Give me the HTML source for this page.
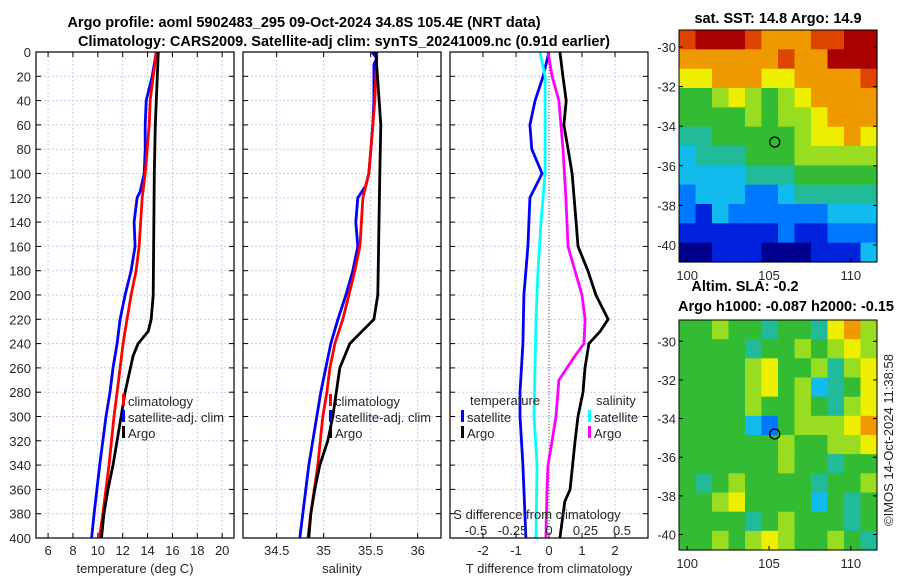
<!DOCTYPE html>
<html><head><meta charset="utf-8"><style>
body{margin:0;background:#fff;}
svg{display:block;font-family:"Liberation Sans","DejaVu Sans",sans-serif;}
.tk{font-size:13px;fill:#262626;}
.tt{font-size:14.5px;font-weight:bold;fill:#000;}
</style></head><body>
<svg id="fig" width="900" height="580" viewBox="0 0 900 580" xmlns="http://www.w3.org/2000/svg">
<text class="tt" x="304" y="27" text-anchor="middle">Argo profile: aoml 5902483_295 09-Oct-2024 34.8S 105.4E (NRT data)</text>
<text class="tt" x="344" y="46" text-anchor="middle">Climatology: CARS2009. Satellite-adj clim: synTS_20241009.nc (0.91d earlier)</text>
<g id="p1"></g>
<g id="p2"></g>
<g id="p3"></g>
<g id="m1"></g>
<g id="m2"></g>
<text class="tk" transform="translate(893,440) rotate(-90)" text-anchor="middle">©IMOS 14-Oct-2024 11:38:58</text>
</svg>
<script>
// ---- data ----
const depthTicks=[0,20,40,60,80,100,120,140,160,180,200,220,240,260,280,300,320,340,360,380,400];
const tTicks=[6,8,10,12,14,16,18,20];
const sTicks=[34.5,35,35.5,36];
const dTTicks=[-2,-1,0,1,2];
const dSTicks=[-0.5,-0.25,0,0.25,0.5];
const dSTickLabels=['-0.5','-0.25','0','0.25','0.5'];
const argoTDepth=[0,20,40,60,100,200,220,230,240,250,280,300,320,340,360,380,400];
const argoT=[14.86,14.78,14.70,14.62,14.54,14.45,14.29,14.05,13.24,12.84,12.19,11.87,11.55,11.22,10.82,10.49,10.3];
const climTDepth=[0,20,40,60,80,100,120,160,180,200,220,240,260,280,300,340,380,400];
const climT=[14.70,14.45,14.21,14.13,13.97,13.81,13.57,13.32,13.08,12.68,12.35,12.03,11.79,11.55,11.30,10.90,10.41,10.13];
const satTDepth=[0,20,40,60,80,100,115,120,140,160,180,200,220,240,260,280,300,340,380,400];
const satT=[14.70,14.37,13.89,13.81,13.81,13.73,13.40,13.16,12.92,13.00,12.68,12.19,11.79,11.55,11.22,10.98,10.66,10.15,9.7,9.5];
const argoSDepth=[0,60,100,200,220,240,260,300,320,340,360,380,400];
const argoS=[35.555,35.608,35.597,35.576,35.534,35.278,35.172,35.097,35.044,34.959,34.906,34.863,34.842];
const climSDepth=[0,40,80,100,120,160,180,200,220,240,260,280,300,340,380,400];
const climS=[35.566,35.544,35.502,35.480,35.417,35.385,35.331,35.268,35.204,35.119,35.066,35.034,34.991,34.938,34.863,34.832];
const satSDepth=[0,5,10,40,60,80,100,110,120,140,160,180,200,220,240,260,280,300,340,380,400];
const satS=[35.512,35.566,35.534,35.534,35.523,35.502,35.480,35.449,35.363,35.342,35.363,35.310,35.236,35.151,35.076,35.023,34.970,34.927,34.842,34.778,34.746];
const argoDTDepth=[0,20,40,60,80,100,140,160,180,200,220,230,240,260,280,300,320,360,370,400];
const argoDT=[0.33,0.42,0.52,0.45,0.58,0.70,0.82,0.88,1.18,1.42,1.79,1.55,1.21,1.09,1.03,0.88,0.79,0.64,0.48,0.33];
const satDTDepth=[0,20,40,60,80,100,120,160,200,240,280,300,340,400];
const satDT=[0,-0.18,-0.42,-0.58,-0.52,-0.21,-0.58,-0.64,-0.76,-0.79,-0.88,-0.88,-0.79,-0.70];
const satDSDepth=[0,20,60,100,140,180,220,260,300,340,400];
const satDS=[-0.062,-0.027,-0.027,-0.027,-0.055,-0.075,-0.089,-0.096,-0.103,-0.082,-0.089];
const argoDSDepth=[0,20,40,80,120,160,180,200,220,240,250,270,300,320,340,360,400];
const argoDS=[-0.007,0.021,0.068,0.096,0.116,0.130,0.178,0.226,0.247,0.240,0.178,0.068,0.048,0.021,-0.007,-0.014,-0.021];
const mapLatTicks=[-30,-32,-34,-36,-38,-40];
const mapLonTicks=[100,105,110];
const argoLon=105.35, argoLat=-34.8;
const sstGrid=["9AAA988899AA","888888988AAA","778887788889","556765678888","555565667888","445555567787","344455566666","333344455555","233322344444","213222222333","111111211222","001110001113"];
const slaGrid=["556554554786","555545565676","555567556467","555567563457","555565565467","555532566678","555555655667","555555655455","545655554556","556755553545","555545655545","556567655654"];

const svg=document.getElementById('fig');
const NS='http://www.w3.org/2000/svg';
function mk(parent,tag,attrs){const e=document.createElementNS(NS,tag);for(const k in attrs)e.setAttribute(k,attrs[k]);parent.appendChild(e);return e;}
const Y0=52,Y1=538;
const yD=d=>Y0+(d/400)*(Y1-Y0);

function panel(g,x0,x1,xmin,xmax,ticks,labels,xlabel,name){
  const xs=v=>x0+(v-xmin)/(xmax-xmin)*(x1-x0);
  depthTicks.forEach(d=>{
    const l=mk(g,'line',{x1:x0,x2:x1,y1:yD(d),y2:yD(d),stroke:'#c8cdf0','stroke-width':1,'stroke-dasharray':'2,2'});
    
  });
  ticks.forEach(v=>{
    const l=mk(g,'line',{x1:xs(v),x2:xs(v),y1:Y0,y2:Y1,stroke:'#c8cdf0','stroke-width':1,'stroke-dasharray':'2,2'});
    
  });
  ticks.forEach((v,i)=>{
    mk(g,'line',{x1:xs(v),x2:xs(v),y1:Y1,y2:Y1-5,stroke:'#000'});
    mk(g,'line',{x1:xs(v),x2:xs(v),y1:Y0,y2:Y0+5,stroke:'#000'});
    const t=mk(g,'text',{x:xs(v),y:Y1+17,'text-anchor':'middle',class:'tk'});t.textContent=labels[i];
    
  });
  depthTicks.forEach(d=>{
    mk(g,'line',{x1:x0,x2:x0+5,y1:yD(d),y2:yD(d),stroke:'#000'});
    mk(g,'line',{x1:x1,x2:x1-5,y1:yD(d),y2:yD(d),stroke:'#000'});
  });
  const xl=mk(g,'text',{x:(x0+x1)/2,y:Y1+35,'text-anchor':'middle',class:'tk'});xl.textContent=xlabel;
  
  return xs;
}
function frame(g,x0,x1){const r=mk(g,'rect',{x:x0,y:Y0,width:x1-x0,height:Y1-Y0,fill:'none',stroke:'#000','stroke-width':1.2});}
function line(g,xs,depths,vals,color,name){
  const p=mk(g,'polyline',{points:depths.map((d,i)=>xs(vals[i]).toFixed(1)+','+yD(d).toFixed(1)).join(' '),fill:'none',stroke:color,'stroke-width':2.8,'stroke-linejoin':'round'});
  
}
function legend(g,x,y,color,label){
  mk(g,'rect',{x:x-2,y:y-7,width:3,height:12,fill:color});
  const t=mk(g,'text',{x:x+4,y:y+5,class:'tk'});t.textContent=label;
  
}

// panel 1
const p1=document.getElementById('p1');
const xT=panel(p1,36,234,5.03,20.95,tTicks,tTicks.map(String),'temperature (deg C)','temperature');
depthTicks.forEach(d=>{const t=mk(p1,'text',{x:31,y:yD(d)+5,'text-anchor':'end',class:'tk'});t.textContent=d;});
line(p1,xT,satTDepth,satT,'#0000ff','satellite-adj-temp-line');
line(p1,xT,climTDepth,climT,'#ff0000','climatology-temp-line');
line(p1,xT,argoTDepth,argoT,'#000','argo-temp-line');
frame(p1,36,234);
legend(p1,124,401,'#ff0000','climatology');legend(p1,124,417,'#0000ff','satellite-adj. clim');legend(p1,124,433,'#000','Argo');

// panel 2
const p2=document.getElementById('p2');
const xS=panel(p2,243,441,34.142,36.248,sTicks,sTicks.map(String),'salinity','salinity');
line(p2,xS,satSDepth,satS,'#0000ff','satellite-adj-sal-line');
line(p2,xS,climSDepth,climS,'#ff0000','climatology-sal-line');
line(p2,xS,argoSDepth,argoS,'#000','argo-sal-line');
frame(p2,243,441);
legend(p2,331,401,'#ff0000','climatology');legend(p2,331,417,'#0000ff','satellite-adj. clim');legend(p2,331,433,'#000','Argo');

// panel 3
const p3=document.getElementById('p3');
const xDT=panel(p3,450,648,-3,3,dTTicks,dTTicks.map(String),'T difference from climatology','t-difference');
const xDS=v=>549+v*146;
mk(p3,'line',{x1:549,x2:549,y1:Y0,y2:Y1,stroke:'#555','stroke-width':1,'stroke-dasharray':'1,2'});
line(p3,xDT,argoDTDepth,argoDT,'#000','argo-temp-diff-line');
line(p3,xDT,satDTDepth,satDT,'#0000ff','satellite-temp-diff-line');
line(p3,xDS,satDSDepth,satDS,'#00ffff','satellite-sal-diff-line');
line(p3,xDS,argoDSDepth,argoDS,'#ff00ff','argo-sal-diff-line');
frame(p3,450,648);
{const t=mk(p3,'text',{x:470,y:405,class:'tk'});t.textContent='temperature';}
{const t=mk(p3,'text',{x:596,y:405,class:'tk'});t.textContent='salinity';}
legend(p3,463,417,'#0000ff','satellite');legend(p3,463,433,'#000','Argo');
legend(p3,590,417,'#00ffff','satellite');legend(p3,590,433,'#ff00ff','Argo');
{const t=mk(p3,'text',{x:537,y:519,'text-anchor':'middle',class:'tk'});t.textContent='S difference from climatology';}
dSTicks.forEach((v,i)=>{const t=mk(p3,'text',{x:xDS(v),y:535,'text-anchor':'middle',class:'tk'});t.textContent=dSTickLabels[i];});

// maps
const palette=['#00008f','#0022dd','#0077ff','#11bbee','#22bb99','#33bb33','#99dd22','#eeee00','#ee9900','#dd4400','#aa0000'];
function map(g,grid,top,bot,latTop,latBot,title1,title2){
  const x0=679,x1=877,lonL=99.5,lonR=111.6;
  const lx=v=>x0+(v-lonL)/(lonR-lonL)*(x1-x0);
  const ly=v=>top+(latTop-v)/(latTop-latBot)*(bot-top);
  const rows=grid.length,cols=grid[0].length,cw=(x1-x0)/cols,ch=(bot-top)/rows;
  grid.forEach((row,r)=>{for(let c=0;c<cols;c++){
    const v=parseInt(row[c],16);
    const cell=mk(g,'rect',{x:x0+c*cw,y:top+r*ch,width:cw+0.6,height:ch+0.6,fill:palette[v]});
    
  }});
  mk(g,'rect',{x:x0,y:top,width:x1-x0,height:bot-top,fill:'none',stroke:'#000'});
  mapLatTicks.forEach(v=>{mk(g,'line',{x1:x0,x2:x0+4,y1:ly(v),y2:ly(v),stroke:'#000'});mk(g,'line',{x1:x1,x2:x1-4,y1:ly(v),y2:ly(v),stroke:'#000'});
    const t=mk(g,'text',{x:x0-3,y:ly(v)+5,'text-anchor':'end',class:'tk'});t.textContent=v;});
  mapLonTicks.forEach(v=>{mk(g,'line',{x1:lx(v),x2:lx(v),y1:bot,y2:bot-4,stroke:'#000'});
    const t=mk(g,'text',{x:lx(v),y:bot+18,'text-anchor':'middle',class:'tk'});t.textContent=v;});
  const c=mk(g,'circle',{cx:lx(argoLon),cy:ly(argoLat),r:5,fill:'none',stroke:'#000','stroke-width':1.3});
  
  if(title2){const t=mk(g,'text',{x:745,y:top-29,'text-anchor':'middle',class:'tt'});t.textContent=title1;
    const t2=mk(g,'text',{x:786,y:top-9,'text-anchor':'middle',class:'tt'});t2.textContent=title2;}
  else{const t=mk(g,'text',{x:778,y:top-7,'text-anchor':'middle',class:'tt'});t.textContent=title1;}
}
map(document.getElementById('m1'),sstGrid,30,262,-29.14,-40.86,'sat. SST: 14.8 Argo: 14.9');
map(document.getElementById('m2'),slaGrid,320,550,-28.9,-40.8,'Altim. SLA: -0.2','Argo h1000: -0.087 h2000: -0.15');
</script>
</body></html>
